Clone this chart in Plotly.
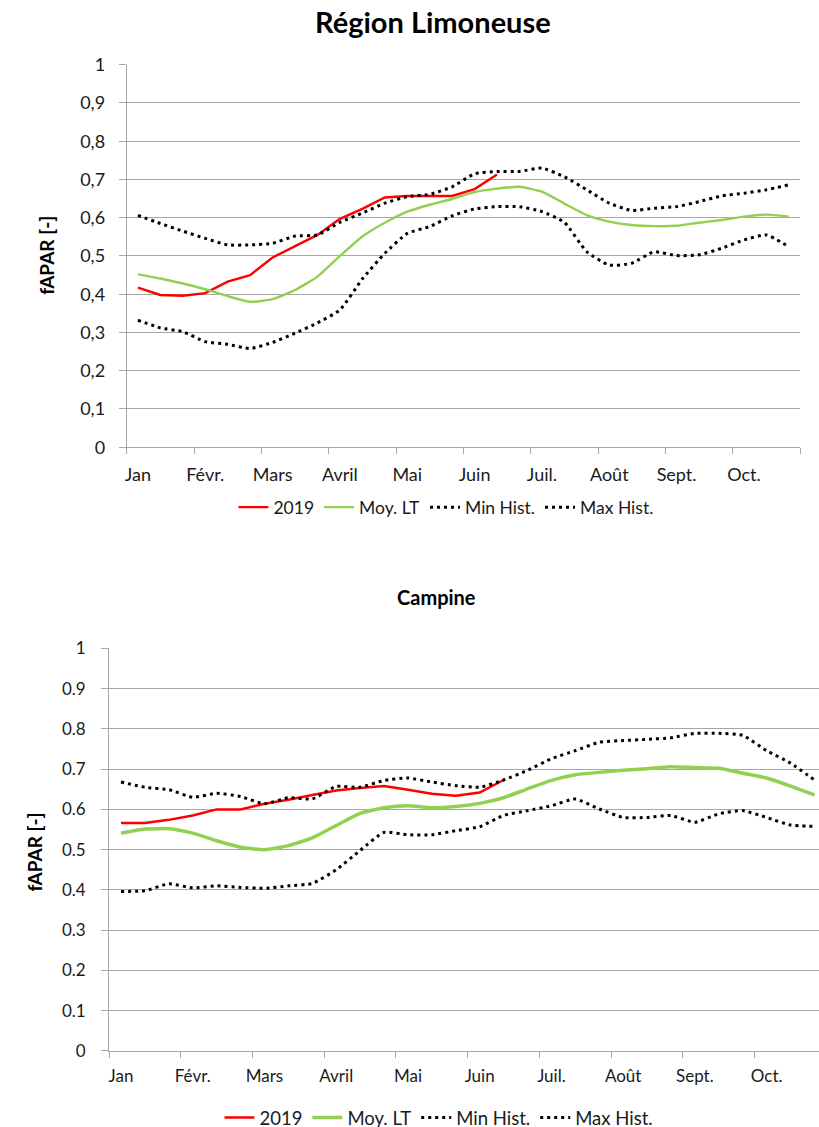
import plotly.graph_objects as go

months = ["Jan", "Févr.", "Mars", "Avril", "Mai", "Juin", "Juil.", "Août", "Sept.", "Oct."]
dekads = list(range(30))  # 3 dekads per month, Jan..Oct

# Région Limoneuse
lim_2019 = [0.417, 0.398, 0.396, 0.403, 0.433, 0.450, 0.496, 0.526, 0.555, 0.597, 0.623, 0.653,
            0.657, 0.657, 0.657, 0.675, 0.713]
lim_moy = [0.452, 0.441, 0.428, 0.413, 0.395, 0.380, 0.387, 0.411, 0.446, 0.500, 0.551, 0.587,
           0.616, 0.634, 0.649, 0.667, 0.676, 0.681, 0.668, 0.637, 0.607, 0.590, 0.581, 0.578,
           0.579, 0.587, 0.594, 0.603, 0.608, 0.603]
lim_min = [0.332, 0.312, 0.302, 0.276, 0.269, 0.258, 0.274, 0.298, 0.325, 0.359, 0.440, 0.507,
           0.559, 0.577, 0.605, 0.623, 0.629, 0.629, 0.616, 0.588, 0.511, 0.476, 0.481, 0.511,
           0.501, 0.503, 0.520, 0.542, 0.555, 0.524]
lim_max = [0.606, 0.585, 0.565, 0.546, 0.529, 0.529, 0.533, 0.552, 0.555, 0.588, 0.612, 0.638,
           0.655, 0.661, 0.681, 0.715, 0.721, 0.721, 0.730, 0.707, 0.673, 0.638, 0.619, 0.625,
           0.629, 0.642, 0.657, 0.664, 0.673, 0.686]

# Campine
cam_2019 = [0.566, 0.566, 0.574, 0.585, 0.600, 0.600, 0.614, 0.624, 0.636, 0.647, 0.653, 0.658,
            0.649, 0.639, 0.634, 0.642, 0.673]
cam_moy = [0.541, 0.551, 0.552, 0.541, 0.522, 0.506, 0.500, 0.510, 0.529, 0.560, 0.590, 0.604,
           0.609, 0.604, 0.607, 0.615, 0.629, 0.651, 0.672, 0.686, 0.692, 0.697, 0.701, 0.706,
           0.704, 0.702, 0.690, 0.678, 0.658, 0.636]
cam_min = [0.396, 0.398, 0.415, 0.405, 0.410, 0.406, 0.404, 0.410, 0.416, 0.450, 0.498, 0.543,
           0.537, 0.537, 0.547, 0.557, 0.585, 0.597, 0.609, 0.626, 0.601, 0.580, 0.580, 0.585,
           0.568, 0.589, 0.597, 0.580, 0.561, 0.558]
cam_max = [0.668, 0.655, 0.649, 0.630, 0.640, 0.632, 0.614, 0.629, 0.626, 0.657, 0.655, 0.672,
           0.678, 0.668, 0.659, 0.655, 0.673, 0.697, 0.726, 0.746, 0.767, 0.771, 0.774, 0.778,
           0.789, 0.789, 0.784, 0.746, 0.715, 0.673]

yticks = [i / 10 for i in range(11)]
month_ticks = [3 * i for i in range(10)]

FONT = "Lato, 'Open Sans', sans-serif"
RED = "#ff0000"
GREEN = "#92d050"
GRID = "#a6a6a6"
TXT = "#1a1a1a"

fig = go.Figure()

def add_series(xa, ya, leg, s2019, smoy, smin, smax, gw, rw):
    fig.add_trace(go.Scatter(x=dekads[:len(s2019)], y=s2019, name="2019", mode="lines",
                             line=dict(color=RED, width=rw), xaxis=xa, yaxis=ya, legend=leg))
    fig.add_trace(go.Scatter(x=dekads, y=smoy, name="Moy. LT", mode="lines",
                             line=dict(color=GREEN, width=gw, shape="spline", smoothing=0.5),
                             xaxis=xa, yaxis=ya, legend=leg))
    fig.add_trace(go.Scatter(x=dekads, y=smin, name="Min Hist.", mode="lines",
                             line=dict(color="black", width=3, dash="3px,4px", shape="spline", smoothing=0.5),
                             xaxis=xa, yaxis=ya, legend=leg))
    fig.add_trace(go.Scatter(x=dekads, y=smax, name="Max Hist.", mode="lines",
                             line=dict(color="black", width=3, dash="3px,4px", shape="spline", smoothing=0.5),
                             xaxis=xa, yaxis=ya, legend=leg))

add_series("x", "y", "legend", lim_2019, lim_moy, lim_min, lim_max, 2.4, 2.4)
add_series("x2", "y2", "legend2", cam_2019, cam_moy, cam_min, cam_max, 3.5, 2.5)

W, H = 819, 1140
# vertical calibration observed in the rendered page
VS, VC = 0.9796, 12.3
def px(v): return v / W
def py(v):
    return 1 - ((v - VC) / VS) / H

def xaxis_cfg(size, standoff):
    return dict(tickmode="array", tickvals=month_ticks, ticktext=months, ticks="",
                showgrid=False, showline=True, linecolor=GRID, linewidth=1,
                tickfont=dict(family=FONT, size=size, color=TXT), zeroline=False,
                ticklabelstandoff=standoff,
                minor=dict(tick0=-0.5, dtick=3, ticks="outside", ticklen=6, tickcolor=GRID, showgrid=False))

def yaxis_cfg(size, standoff):
    return dict(range=[0, 1], tickvals=yticks, ticks="outside", ticklen=7, tickcolor=GRID,
                showgrid=True, gridcolor=GRID, gridwidth=1, showline=True, linecolor=GRID,
                zeroline=False, tickfont=dict(family=FONT, size=size, color=TXT),
                ticklabelstandoff=standoff)

fig.update_layout(
    width=W, height=H, margin=dict(l=0, r=0, t=0, b=0),
    paper_bgcolor="white", plot_bgcolor="white",
    xaxis=dict(domain=[px(125), px(800)], range=[-0.5, 29.5], anchor="y", **xaxis_cfg(18, 11)),
    yaxis=dict(domain=[py(447), py(65)], anchor="x",
               ticktext=["0", "0,1", "0,2", "0,3", "0,4", "0,5", "0,6", "0,7", "0,8", "0,9", "1"],
               **yaxis_cfg(18, 10)),
    xaxis2=dict(domain=[px(107.3), 1.0], range=[-0.5, 29.19], anchor="y2", **xaxis_cfg(17, 10)),
    yaxis2=dict(domain=[py(1050), py(648)], anchor="x2",
                ticktext=["0", "0.1", "0.2", "0.3", "0.4", "0.5", "0.6", "0.7", "0.8", "0.9", "1"],
                **yaxis_cfg(17, 12)),
    legend=dict(orientation="h", x=px(232), y=py(507), xanchor="left", yanchor="middle",
                font=dict(family=FONT, size=17.5, color=TXT), bgcolor="rgba(0,0,0,0)",
                itemwidth=30),
    legend2=dict(orientation="h", x=px(218), y=py(1117), xanchor="left", yanchor="middle",
                 font=dict(family=FONT, size=18.5, color=TXT), bgcolor="rgba(0,0,0,0)",
                 itemwidth=30),
    showlegend=True,
    annotations=[
        dict(text="<b>Région Limoneuse</b>", x=px(432), y=py(22), xref="paper", yref="paper",
             showarrow=False, font=dict(family=FONT, size=29, color="black"), xanchor="center", yanchor="middle"),
        dict(text="<b>Campine</b>", x=px(436), y=py(597), xref="paper", yref="paper",
             showarrow=False, font=dict(family=FONT, size=20, color="black"), xanchor="center", yanchor="middle"),
        dict(text="<b>fAPAR [-]</b>", x=px(45), y=py(255), xref="paper", yref="paper", textangle=-90,
             showarrow=False, font=dict(family=FONT, size=19, color="black"), xanchor="center", yanchor="middle"),
        dict(text="<b>fAPAR [-]</b>", x=px(33), y=py(851), xref="paper", yref="paper", textangle=-90,
             showarrow=False, font=dict(family=FONT, size=19, color="black"), xanchor="center", yanchor="middle"),
    ],
)

fig.write_html("out.html", config={"displayModeBar": False},
               post_script="document.body.style.margin='0';document.body.style.overflow='hidden';")
